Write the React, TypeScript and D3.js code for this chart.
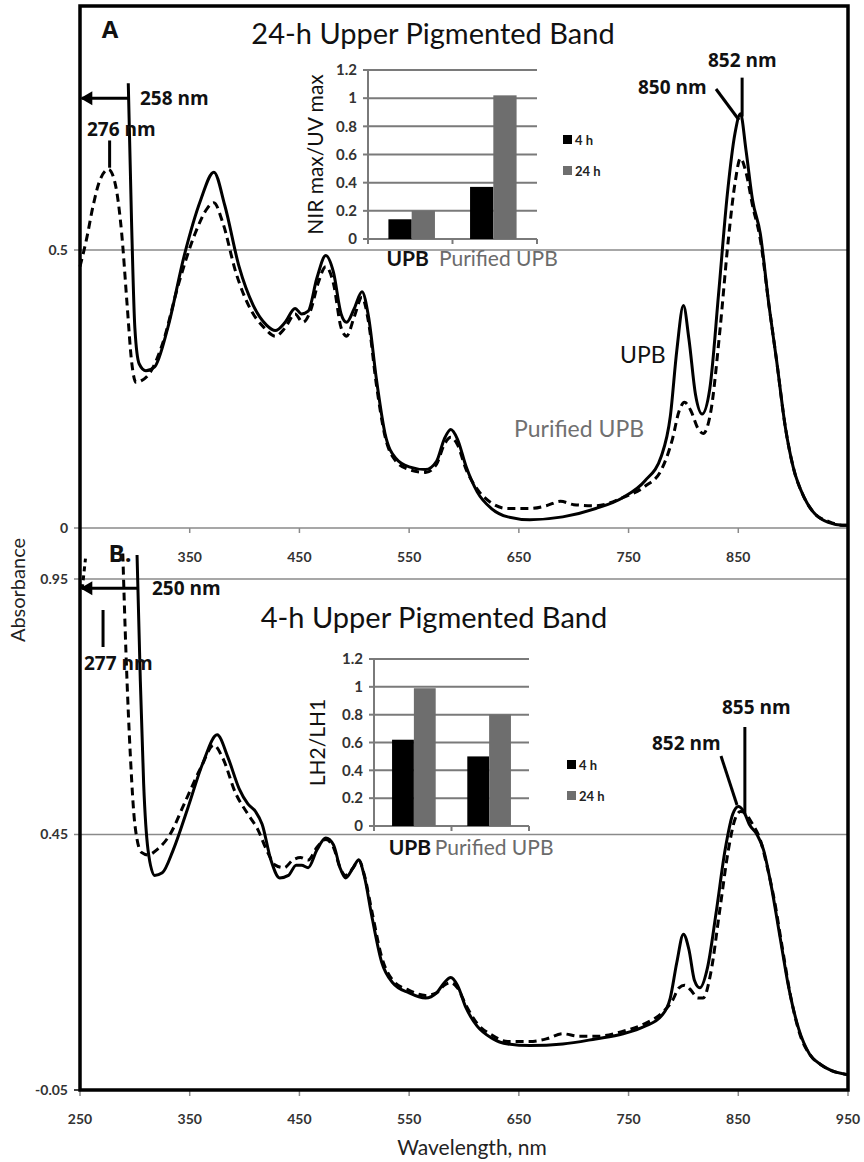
import React from "react";
import * as d3 from "d3";

// ---------- Data ----------
// Panel A: 24-h upper pigmented band
const upbA: [number, number][] = [
  [294, 0.8], [297, 0.55], [300, 0.36], [304, 0.295], [310, 0.283], [318, 0.29], [330, 0.36], [345, 0.49],
  [360, 0.59], [372, 0.64], [382, 0.58], [395, 0.47], [408, 0.4], [420, 0.365], [428, 0.355], [437, 0.37],
  [446, 0.395], [452, 0.385], [458, 0.39], [466, 0.45], [474, 0.49], [481, 0.46], [488, 0.385], [493, 0.37],
  [500, 0.395], [507, 0.425], [513, 0.38], [520, 0.27], [528, 0.17], [538, 0.125], [550, 0.11], [565, 0.105],
  [575, 0.12], [582, 0.16], [588, 0.177], [594, 0.16], [602, 0.11], [612, 0.065], [625, 0.035], [640, 0.02],
  [660, 0.015], [690, 0.02], [720, 0.035], [745, 0.055], [765, 0.085], [780, 0.13], [788, 0.2], [794, 0.32],
  [800, 0.4], [805, 0.34], [811, 0.24], [817, 0.205], [824, 0.25], [832, 0.42], [840, 0.6], [847, 0.71],
  [852, 0.745], [857, 0.68], [863, 0.59], [870, 0.53], [878, 0.4], [885, 0.3], [893, 0.18], [900, 0.11],
  [910, 0.055], [920, 0.025], [932, 0.01], [945, 0.005], [950, 0.005],
];
const purifiedA: [number, number][] = [
  [250, 0.47], [256, 0.52], [262, 0.58], [268, 0.625], [276, 0.645], [282, 0.62], [288, 0.53], [293, 0.4],
  [297, 0.3], [301, 0.262], [306, 0.265], [314, 0.28], [325, 0.33], [340, 0.44], [355, 0.53], [366, 0.575],
  [372, 0.585], [380, 0.55], [392, 0.46], [405, 0.395], [418, 0.36], [428, 0.345], [437, 0.36], [446, 0.385],
  [453, 0.37], [460, 0.39], [467, 0.44], [474, 0.47], [481, 0.44], [488, 0.36], [493, 0.345], [500, 0.38],
  [507, 0.415], [513, 0.37], [520, 0.26], [528, 0.165], [538, 0.12], [550, 0.105], [565, 0.1], [575, 0.115],
  [582, 0.15], [588, 0.163], [594, 0.15], [602, 0.105], [612, 0.07], [625, 0.045], [640, 0.035], [660, 0.035],
  [675, 0.04], [688, 0.048], [700, 0.042], [720, 0.04], [745, 0.055], [765, 0.075], [780, 0.105], [790, 0.16],
  [796, 0.21], [801, 0.226], [807, 0.21], [813, 0.18], [818, 0.17], [825, 0.21], [833, 0.35], [841, 0.52],
  [847, 0.62], [852, 0.665], [857, 0.64], [863, 0.58], [870, 0.52], [878, 0.4], [885, 0.3], [893, 0.18],
  [900, 0.11], [910, 0.055], [920, 0.025], [932, 0.012], [945, 0.005], [950, 0.005],
];
// Panel B: 4-h upper pigmented band
const upbB: [number, number][] = [
  [302, 0.997], [305, 0.75], [308, 0.55], [312, 0.42], [318, 0.37], [325, 0.375], [335, 0.42], [348, 0.5],
  [362, 0.59], [375, 0.645], [385, 0.6], [395, 0.54], [403, 0.51], [410, 0.495], [416, 0.47], [424, 0.4],
  [432, 0.365], [440, 0.37], [447, 0.39], [452, 0.39], [458, 0.385], [466, 0.42], [474, 0.443], [481, 0.43],
  [487, 0.385], [492, 0.365], [499, 0.385], [504, 0.4], [509, 0.37], [516, 0.29], [525, 0.2], [535, 0.16],
  [550, 0.14], [565, 0.13], [575, 0.14], [582, 0.16], [588, 0.17], [594, 0.155], [602, 0.11], [612, 0.075],
  [625, 0.052], [640, 0.04], [660, 0.037], [690, 0.04], [720, 0.05], [745, 0.06], [765, 0.075], [780, 0.095],
  [788, 0.13], [794, 0.2], [800, 0.255], [805, 0.225], [810, 0.165], [815, 0.15], [822, 0.19], [830, 0.3],
  [838, 0.42], [845, 0.49], [850, 0.505], [855, 0.495], [860, 0.47], [867, 0.45], [873, 0.42], [880, 0.35],
  [888, 0.25], [896, 0.15], [905, 0.07], [915, 0.02], [925, 0.0], [935, -0.012], [945, -0.018], [950, -0.02],
];
const purifiedBLead: [number, number][] = [[252, 0.93], [255, 0.99]];
const purifiedB: [number, number][] = [
  [289, 1.0], [292, 0.8], [296, 0.6], [300, 0.47], [306, 0.415], [312, 0.41], [320, 0.42], [332, 0.45],
  [345, 0.51], [360, 0.58], [372, 0.625], [380, 0.6], [392, 0.53], [403, 0.49], [412, 0.46], [420, 0.42],
  [428, 0.39], [436, 0.385], [444, 0.4], [451, 0.405], [458, 0.4], [466, 0.425], [474, 0.44], [481, 0.425],
  [487, 0.385], [492, 0.37], [499, 0.385], [504, 0.4], [509, 0.372], [516, 0.3], [525, 0.21], [535, 0.165],
  [550, 0.145], [565, 0.135], [575, 0.14], [582, 0.155], [588, 0.16], [594, 0.15], [602, 0.115], [612, 0.08],
  [625, 0.058], [640, 0.045], [660, 0.045], [675, 0.05], [690, 0.06], [705, 0.055], [720, 0.055], [745, 0.065],
  [765, 0.08], [780, 0.1], [790, 0.125], [796, 0.15], [801, 0.155], [807, 0.145], [813, 0.13], [818, 0.13],
  [825, 0.18], [833, 0.3], [841, 0.42], [847, 0.48], [852, 0.495], [857, 0.49], [863, 0.47], [870, 0.44],
  [876, 0.39], [883, 0.32], [890, 0.23], [898, 0.13], [906, 0.06], [915, 0.02], [925, 0.0], [935, -0.012],
  [945, -0.018], [950, -0.02],
];

const xTicksA = [350, 450, 550, 650, 750, 850];
const xTicksB = [250, 350, 450, 550, 650, 750, 850, 950];
const yTicksA = [0, 0.5];
const yTicksB = [-0.05, 0.45, 0.95];

// Insets
const insetCategories = ["UPB", "Purified UPB"];
const insetSeries = ["4 h", "24 h"];
const ratioA4h = [0.14, 0.37];
const ratioA24h = [0.2, 1.02];
const ratioB4h = [0.62, 0.5];
const ratioB24h = [0.99, 0.8];
const insetTicks = [0, 0.2, 0.4, 0.6, 0.8, 1, 1.2];

const FONT = "Lato, 'Open Sans', sans-serif";
const BOLD_FONT = "'Open Sans', Lato, sans-serif";

function Inset(props: {
  left: number; right: number; top: number; bottom: number;
  v4: number[]; v24: number[]; title: string; titleX: number;
  pi: number; po: number; legendX: number; legendY: number; catY: number;
}) {
  const { left, right, top, bottom, v4, v24, title, titleX, pi, po, legendX, legendY, catY } = props;
  const y = d3.scaleLinear().domain([0, 1.2]).range([bottom, top]);
  const xb = d3.scaleBand<string>().domain(insetCategories).range([left, right]).paddingInner(pi).paddingOuter(po);
  const xs = d3.scaleBand<string>().domain(insetSeries).range([0, xb.bandwidth()]);
  const colors = ["#000000", "#6e6e6e"];
  const step = (right - left) / 2;
  return (
    <g>
      {insetTicks.map((t) => (
        <g key={t}>
          <line x1={left} x2={right} y1={y(t)} y2={y(t)} stroke="#7a7a7a" strokeWidth={2} />
          <line x1={left - 5} x2={left} y1={y(t)} y2={y(t)} stroke="#7a7a7a" strokeWidth={2} />
          <text x={left - 11} y={y(t)} dy="0.35em" textAnchor="end" fontFamily={FONT} fontWeight={700} fontSize={15} fill="#333">
            {String(t)}
          </text>
        </g>
      ))}
      <line x1={left} x2={left} y1={top} y2={bottom + 5} stroke="#7a7a7a" strokeWidth={2} />
      {[0, 1, 2].map((i) => (
        <line key={i} x1={left + i * step} x2={left + i * step} y1={bottom} y2={bottom + 5} stroke="#7a7a7a" strokeWidth={2} />
      ))}
      {insetCategories.map((c, i) => (
        <g key={c}>
          <rect x={(xb(c) as number) + (xs("4 h") as number)} y={y(v4[i])} width={xs.bandwidth()} height={y(0) - y(v4[i])} fill={colors[0]} />
          <rect x={(xb(c) as number) + (xs("24 h") as number)} y={y(v24[i])} width={xs.bandwidth()} height={y(0) - y(v24[i])} fill={colors[1]} />
        </g>
      ))}
      <text transform={`translate(${titleX},${(top + bottom) / 2}) rotate(-90)`} textAnchor="middle" dy="0.35em" fontFamily={FONT} fontSize={21} fill="#111">
        {title}
      </text>
      <text x={(xb("UPB") as number) + xb.bandwidth() / 2 - 4} y={catY} textAnchor="middle" fontFamily={FONT} fontWeight={700} fontSize={21} fill="#111">UPB</text>
      <text x={(xb("Purified UPB") as number) + xb.bandwidth() / 2 + 5} y={catY} textAnchor="middle" fontFamily={FONT} fontSize={21} fill="#6b6b6b">Purified UPB</text>
      {insetSeries.map((s, i) => (
        <g key={s}>
          <rect x={legendX} y={legendY + i * 31 - 5} width={9} height={9} fill={colors[i]} />
          <text x={legendX + 12} y={legendY + i * 31} dy="0.35em" fontFamily={FONT} fontWeight={700} fontSize={13} fill="#222">{s}</text>
        </g>
      ))}
    </g>
  );
}

export default function App() {
  const W = 864, H = 1162;
  const L = 80, R = 848;
  const x = d3.scaleLinear().domain([250, 950]).range([L, R]);
  const yA = d3.scaleLinear().domain([0, 0.5]).range([528, 250]);
  const yB = d3.scaleLinear().domain([-0.05, 0.95]).range([1090, 579]);

  const lineA = d3.line<[number, number]>().x((d) => x(d[0])).y((d) => yA(d[1])).curve(d3.curveMonotoneX);
  const lineB = d3.line<[number, number]>().x((d) => x(d[0])).y((d) => yB(d[1])).curve(d3.curveMonotoneX);

  const grid = "#8a8a8a";
  const tickFont = { fontFamily: FONT, fontSize: 14, fill: "#333", fontWeight: 700 } as const;
  const annFont = { fontFamily: BOLD_FONT, fontSize: 19, fontWeight: 700, fill: "#111" } as const;

  return (
    <svg width={W} height={H} style={{ position: "absolute", left: 0, top: 0, background: "#fff" }}>
      <rect x={0} y={0} width={W} height={H} fill="#fff" />
      {/* Panel A gridlines / axis */}
      {yTicksA.map((t) => (
        <g key={"ya" + t}>
          <line x1={L - 6} x2={R} y1={yA(t)} y2={yA(t)} stroke={grid} strokeWidth={1.5} />
          <text x={L - 12} y={yA(t)} dy="0.35em" textAnchor="end" {...tickFont}>{String(t)}</text>
        </g>
      ))}
      {xTicksB.map((t) => (
        <line key={"xa" + t} x1={x(t)} x2={x(t)} y1={yA(0)} y2={yA(0) + 5} stroke={grid} strokeWidth={1.5} />
      ))}
      {xTicksA.map((t) => (
        <text key={"xal" + t} x={x(t)} y={557} dy="0.35em" textAnchor="middle" {...tickFont}>{String(t)}</text>
      ))}
      {/* Panel B gridlines / axis */}
      {yTicksB.map((t) => (
        <g key={"yb" + t}>
          <line x1={L - 6} x2={R} y1={yB(t)} y2={yB(t)} stroke={t === -0.05 ? "#000" : grid} strokeWidth={1.5} />
          <text x={L - 12} y={yB(t)} dy="0.35em" textAnchor="end" {...tickFont}>{String(t)}</text>
        </g>
      ))}
      {xTicksB.map((t) => (
        <g key={"xb" + t}>
          <line x1={x(t)} x2={x(t)} y1={yB(-0.05)} y2={yB(-0.05) + 6} stroke={grid} strokeWidth={1.5} />
          <text x={x(t)} y={1119} dy="0.35em" textAnchor="middle" {...tickFont}>{String(t)}</text>
        </g>
      ))}

      {/* Insets */}
      <Inset left={368} right={537} top={70} bottom={239} v4={ratioA4h} v24={ratioA24h} title="NIR max/UV max" titleX={316}
        pi={0.43} po={0.25} legendX={563} legendY={140} catY={266} />
      <Inset left={374} right={529} top={659} bottom={826} v4={ratioB4h} v24={ratioB24h} title="LH2/LH1" titleX={318}
        pi={0.42} po={0.24} legendX={567} legendY={765} catY={855} />

      {/* Curves */}
      <path d={lineA(purifiedA) || ""} fill="none" stroke="#000" strokeWidth={3} strokeDasharray="8 5" />
      <path d={lineA(upbA) || ""} fill="none" stroke="#000" strokeWidth={3} />
      <path d={lineB(purifiedBLead) || ""} fill="none" stroke="#000" strokeWidth={3} strokeDasharray="5 4" />
      <path d={lineB(purifiedB) || ""} fill="none" stroke="#000" strokeWidth={3} strokeDasharray="8 5" />
      <path d={lineB(upbB) || ""} fill="none" stroke="#000" strokeWidth={3} />

      {/* Frame */}
      <rect x={L} y={6} width={R - L} height={1090 - 6} fill="none" stroke="#000" strokeWidth={3.5} />

      {/* Titles */}
      <text x={110} y={38} textAnchor="middle" fontFamily={BOLD_FONT} fontWeight={700} fontSize={24} fill="#111">A</text>
      <text x={433} y={44} textAnchor="middle" fontFamily={FONT} fontSize={29} fill="#111">24-h Upper Pigmented Band</text>
      <text x={120} y={562} textAnchor="middle" fontFamily={BOLD_FONT} fontWeight={700} fontSize={24} fill="#111">B.</text>
      <text x={434} y={628} textAnchor="middle" fontFamily={FONT} fontSize={29} fill="#111">4-h Upper Pigmented Band</text>

      {/* Axis titles */}
      <text transform="translate(18,590) rotate(-90)" textAnchor="middle" dy="0.35em" fontFamily={FONT} fontSize={20} fill="#222">Absorbance</text>
      <text x={472} y={1148} textAnchor="middle" dy="0.35em" fontFamily={FONT} fontSize={21} fill="#222">Wavelength, nm</text>

      {/* Curve labels */}
      <text x={620} y={363} fontFamily={FONT} fontSize={23} fill="#111">UPB</text>
      <text x={514} y={437} fontFamily={FONT} fontSize={23} fill="#707070">Purified UPB</text>

      {/* Panel A annotations */}
      <line x1={x(294)} x2={x(251.5)} y1={yA(0.773)} y2={yA(0.773)} stroke="#000" strokeWidth={3} />
      <path d={`M${x(250.3)},${yA(0.773)} l12,-7 l0,14 z`} fill="#000" />
      <text x={140} y={105} {...annFont}>258 nm</text>
      <line x1={x(277)} x2={x(277)} y1={yA(0.697)} y2={yA(0.648)} stroke="#000" strokeWidth={3} />
      <text x={87} y={136} {...annFont}>276 nm</text>
      <line x1={716} x2={739} y1={89} y2={120} stroke="#000" strokeWidth={3} />
      <line x1={x(853.5)} x2={x(853.5)} y1={yA(0.81)} y2={yA(0.74)} stroke="#000" strokeWidth={3} />
      <text x={638} y={94} {...annFont}>850 nm</text>
      <text x={708} y={67} {...annFont}>852 nm</text>

      {/* Panel B annotations */}
      <line x1={x(302)} x2={x(251.5)} y1={yB(0.932)} y2={yB(0.932)} stroke="#000" strokeWidth={3} />
      <path d={`M${x(250.3)},${yB(0.932)} l12,-7 l0,14 z`} fill="#000" />
      <text x={152} y={595} {...annFont}>250 nm</text>
      <line x1={x(271)} x2={x(271)} y1={610} y2={647} stroke="#000" strokeWidth={3} />
      <text x={84} y={670} {...annFont}>277 nm</text>
      <line x1={721} x2={737} y1={756} y2={805} stroke="#000" strokeWidth={3} />
      <line x1={x(856)} x2={x(856)} y1={727} y2={yB(0.49)} stroke="#000" strokeWidth={3} />
      <text x={652} y={750} {...annFont}>852 nm</text>
      <text x={722} y={714} {...annFont}>855 nm</text>
    </svg>
  );
}
